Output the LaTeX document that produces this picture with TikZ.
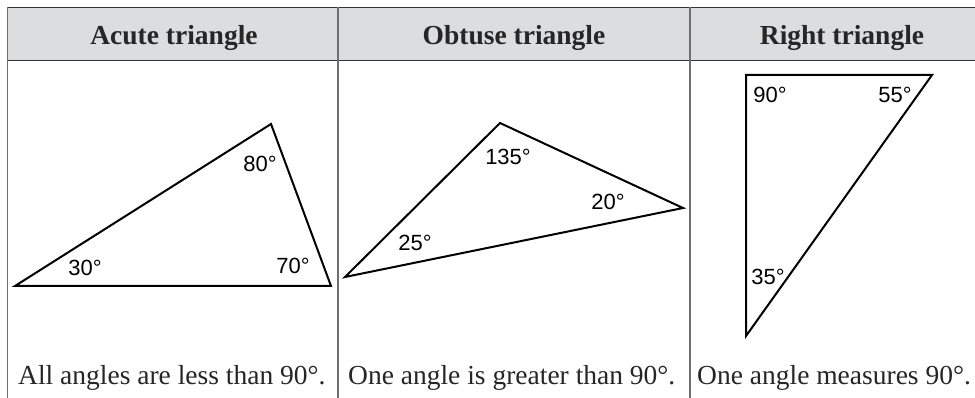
\documentclass[tikz,border=0pt]{standalone}
\usepackage{fontspec}
\setmainfont{Liberation Serif}
\newfontfamily\lblfont{Liberation Sans}
\definecolor{hdr}{HTML}{DCDDDF}
\definecolor{rulegray}{HTML}{6E6E6E}
\definecolor{ruledark}{HTML}{333333}
\begin{document}
\begin{tikzpicture}[x=1pt,y=-1pt,
  sep/.style={draw=rulegray, line width=1.4pt},
  hline/.style={draw=ruledark, line width=1.4pt},
  tri/.style={draw=black, line width=2pt, line join=miter},
  ang/.style={font=\lblfont\fontsize{22}{22}\selectfont, inner sep=0pt, text=black},
  head/.style={font=\bfseries\fontsize{27.5}{27.5}\selectfont, inner sep=0pt, anchor=base, text=black!85},
  desc/.style={font=\fontsize{27.5}{27.5}\selectfont, inner sep=0pt, anchor=base west, text=black!85}]
\useasboundingbox (0,0) rectangle (975,398);
% header band
\fill[hdr] (7.5,7.5) rectangle (975,60.5);
\draw[hline] (7.5,7.5) -- (975,7.5);
\draw[hline] (7.5,60.5) -- (975,60.5);
\draw[sep] (7.5,7.5) -- (7.5,398);
\draw[sep] (338,7.5) -- (338,398);
\draw[sep] (690,7.5) -- (690,398);
% headers
\node[head] (h1) at (174,45) {Acute triangle};
\node[head] (h2) at (514,45) {Obtuse triangle};
\node[head] (h3) at (842,45) {Right triangle};
% acute triangle
\coordinate (a1) at (15,286);
\coordinate (a2) at (331,286);
\coordinate (a3) at (271,124);
\draw[tri] (a1) -- (a2) -- (a3) -- cycle;
\node[ang] (la1) at (85,268) {30°};
\node[ang] (la2) at (293,266) {70°};
\node[ang] (la3) at (260,164) {80°};
% obtuse triangle
\coordinate (b1) at (345,277);
\coordinate (b2) at (683,208);
\coordinate (b3) at (500,123);
\draw[tri] (b1) -- (b2) -- (b3) -- cycle;
\node[ang] (lb1) at (415,243) {25°};
\node[ang] (lb2) at (608,202) {20°};
\node[ang] (lb3) at (508,157) {135°};
% right triangle
\coordinate (c1) at (746,75);
\coordinate (c2) at (932,75);
\coordinate (c3) at (746,336);
\draw[tri] (c1) -- (c2) -- (c3) -- cycle;
\node[ang] (lc1) at (770,95) {90°};
\node[ang] (lc2) at (895,95) {55°};
\node[ang] (lc3) at (768,277) {35°};
% descriptions
\node[desc] (d1) at (18,384) {All angles are less than 90°.};
\node[desc] (d2) at (348,384) {One angle is greater than 90°.};
\node[desc] (d3) at (697,384) {One angle measures 90°.};
\end{tikzpicture}
\end{document}
